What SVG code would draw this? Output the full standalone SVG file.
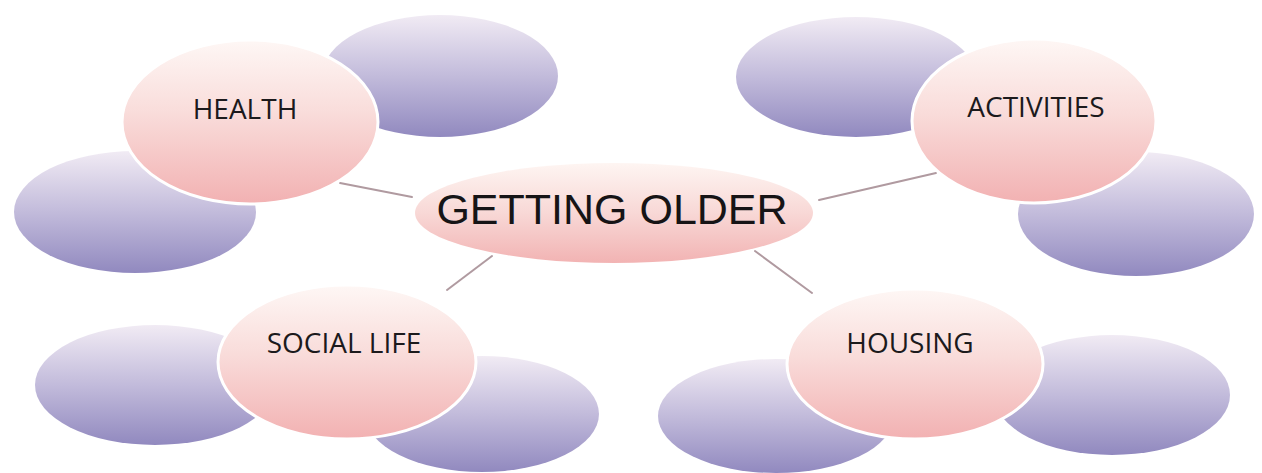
<svg xmlns="http://www.w3.org/2000/svg" width="1262" height="473" viewBox="0 0 1262 473">
  <defs>
    <linearGradient id="gPink" x1="0" y1="0" x2="0" y2="1">
      <stop offset="0" stop-color="#fef7f5"/>
      <stop offset="0.45" stop-color="#f9dcda"/>
      <stop offset="1" stop-color="#f2b1b2"/>
    </linearGradient>
    <linearGradient id="gPurple" x1="0" y1="0" x2="0" y2="1">
      <stop offset="0" stop-color="#f1ebf4"/>
      <stop offset="0.5" stop-color="#c2bbdb"/>
      <stop offset="1" stop-color="#9189bf"/>
    </linearGradient>
    <linearGradient id="gCenter" x1="0" y1="0" x2="0" y2="1">
      <stop offset="0" stop-color="#fef5f2"/>
      <stop offset="0.5" stop-color="#f8d8d6"/>
      <stop offset="1" stop-color="#f2b3b3"/>
    </linearGradient>
  </defs>
  <style>
    .sat { fill: url(#gPurple); }
    .topic { fill: url(#gPink); stroke: #ffffff; stroke-width: 3; }
    .center { fill: url(#gCenter); }
    .lbl { font-family: "Open Sans", "Noto Sans", "DejaVu Sans", sans-serif; font-size: 28px; fill: #1c1a1c; text-anchor: middle; }
    .title { font-family: "Liberation Sans", Arial, sans-serif; font-size: 43px; fill: #161416; text-anchor: middle; }
    .conn line { stroke: #b09aa0; stroke-width: 2; stroke-linecap: round; }
  </style>
  <rect width="1262" height="473" fill="#ffffff"/>

  <g id="connectors" class="conn">
    <line x1="340" y1="183" x2="412" y2="197"/>
    <line x1="819" y1="200" x2="936" y2="173"/>
    <line x1="492" y1="256" x2="447" y2="290"/>
    <line x1="755" y1="251" x2="812" y2="293"/>
  </g>

  <!-- satellite (empty) nodes -->
  <g id="health-sat-1"><ellipse class="sat" cx="440" cy="76" rx="118" ry="61"/></g>
  <g id="health-sat-2"><ellipse class="sat" cx="135" cy="212" rx="121" ry="61"/></g>
  <g id="activities-sat-1"><ellipse class="sat" cx="856" cy="77" rx="120" ry="60"/></g>
  <g id="activities-sat-2"><ellipse class="sat" cx="1136" cy="214" rx="118" ry="62"/></g>
  <g id="social-sat-1"><ellipse class="sat" cx="155" cy="385" rx="120" ry="60"/></g>
  <g id="social-sat-2"><ellipse class="sat" cx="482" cy="414" rx="117" ry="58"/></g>
  <g id="housing-sat-1"><ellipse class="sat" cx="776" cy="416" rx="118" ry="57"/></g>
  <g id="housing-sat-2"><ellipse class="sat" cx="1112" cy="395" rx="118" ry="60"/></g>

  <!-- topic nodes -->
  <g id="health">
    <ellipse class="topic" cx="250" cy="122" rx="128" ry="82"/>
    <text class="lbl" x="245" y="119">HEALTH</text>
  </g>
  <g id="activities">
    <ellipse class="topic" cx="1034" cy="121" rx="122" ry="82"/>
    <text class="lbl" x="1036" y="117">ACTIVITIES</text>
  </g>
  <g id="social-life">
    <ellipse class="topic" cx="347" cy="362" rx="129" ry="77"/>
    <text class="lbl" x="344" y="353">SOCIAL LIFE</text>
  </g>
  <g id="housing">
    <ellipse class="topic" cx="915" cy="364" rx="128" ry="75"/>
    <text class="lbl" x="910" y="353">HOUSING</text>
  </g>

  <g id="getting-older">
    <ellipse class="center" cx="614" cy="213" rx="199" ry="50"/>
    <text class="title" x="612" y="224">GETTING OLDER</text>
  </g>
</svg>
